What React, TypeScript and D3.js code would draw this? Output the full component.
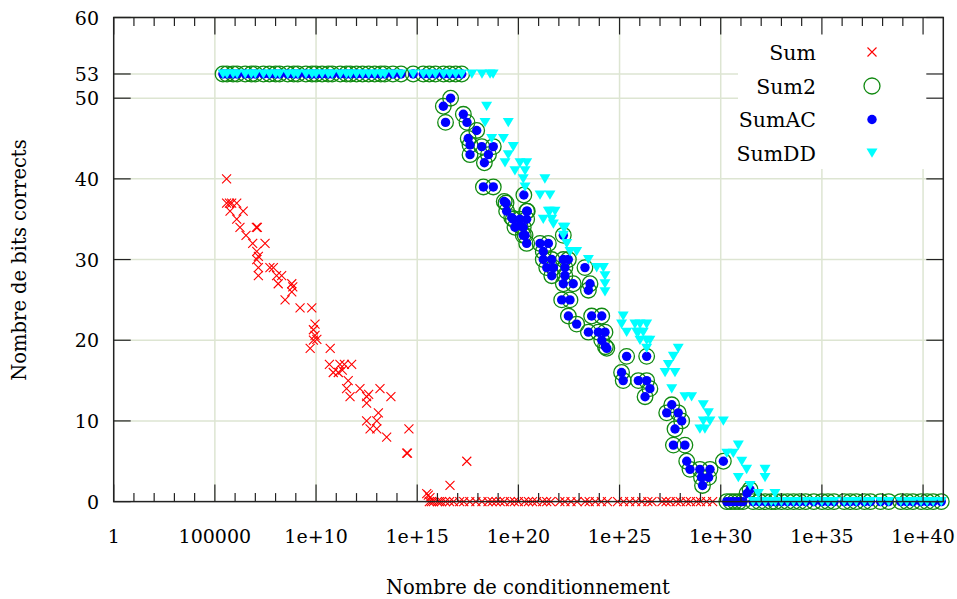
import React from "react";
import * as d3 from "d3";

// ---- data (log10 of condition number, correct bits) ----
const topExps: number[] = [5.4, 5.6, 5.9, 6.1, 6.5, 6.8, 7.0, 7.4, 7.7, 8.0, 8.2, 8.6, 8.9, 9.1, 9.5, 9.8, 10.0, 10.3, 10.6, 10.8, 11.2, 11.5, 11.7, 12.0, 12.3, 12.6, 12.9, 13.2, 13.4, 13.8, 14.2, 14.8, 15.3, 15.6, 15.9, 16.3, 16.6, 16.9, 17.2];
const zeroExpsAC: number[] = [30.3, 30.5, 30.7, 30.9, 31.1, 31.6, 31.9, 32.2, 32.5, 32.7, 33.0, 33.3, 33.6, 33.9, 34.2, 34.6, 35.0, 35.3, 35.6, 36.1, 36.4, 36.7, 37.1, 37.4, 37.9, 38.3, 38.9, 39.2, 39.5, 39.9, 40.2, 40.5, 40.9];
const zeroExpsDD: number[] = [31.6, 31.9, 32.2, 32.5, 32.7, 33.0, 33.3, 33.6, 33.9, 34.2, 34.6, 35.0, 35.3, 35.6, 36.1, 36.4, 36.7, 37.1, 37.4, 37.9, 38.3, 38.9, 39.2, 39.5, 39.9, 40.2, 40.5, 40.9];
const zeroExpsSum: number[] = [15.6, 15.7, 15.8, 16.0, 16.1, 16.2, 16.4, 16.6, 16.8, 17.1, 17.3, 17.6, 17.9, 18.2, 18.5, 18.7, 18.9, 19.1, 19.3, 19.6, 19.8, 20.0, 20.3, 20.5, 20.7, 20.9, 21.2, 21.4, 21.6, 22.05, 22.3, 22.6, 22.9, 23.3, 23.5, 23.8, 24.1, 24.4, 24.9, 25.2, 25.5, 25.8, 26.1, 26.4, 26.6, 27.1, 27.3, 27.5, 27.8, 28.0, 28.3, 28.5, 28.8, 29.0, 29.3, 29.6];

const sumPoints: [number, number][] = [
  [5.58, 40], [5.58, 37], [5.72, 37], [5.83, 37], [6.08, 37], [5.75, 36], [6.4, 36], [6.08, 35],
  [6.24, 34], [7.05, 34], [7.1, 34], [6.54, 33], [6.87, 32], [7.48, 32], [7.07, 31], [7.07, 30],
  [7.15, 30.4], [7.15, 29], [7.72, 29], [7.89, 29], [7.15, 28], [8.05, 28], [8.3, 28], [8.13, 27],
  [8.8, 27], [8.85, 26.6], [8.8, 26], [8.47, 25], [9.21, 24], [9.79, 24], [9.95, 22], [9.87, 21.3],
  [9.95, 20.6], [9.87, 20], [10.04, 20.1], [9.71, 19], [10.7, 19], [10.66, 17], [11.18, 17],
  [11.4, 17], [11.76, 17], [10.85, 16], [11.1, 16], [11.3, 16.3], [11.59, 15], [11.51, 14],
  [12.17, 14], [13.16, 14], [11.68, 13], [12.5, 13], [12.6, 13.3], [13.7, 13], [12.5, 12.2],
  [13.08, 11], [12.5, 10], [13.0, 10], [12.67, 9], [13.0, 9], [14.59, 9], [13.49, 8],
  [14.48, 6], [14.52, 6], [17.45, 5], [16.62, 2], [15.47, 1], [15.55, 0.8], [15.63, 0.5],
];

const sumACPoints: [number, number][] = [
  [16.65, 50], [16.29, 49], [16.4, 47], [17.28, 48], [17.46, 47], [17.94, 46], [17.52, 45], [17.61, 44.2],
  [18.19, 44], [18.76, 44], [17.61, 43], [18.52, 43], [18.32, 42], [18.27, 39], [18.76, 39], [20.27, 38],
  [19.39, 37], [19.3, 37.2], [20.44, 36], [19.42, 36], [20.41, 36], [19.75, 35], [19.67, 35.2], [20.08, 35],
  [20.41, 35], [19.83, 34], [20.24, 34], [20.08, 34.2], [20.33, 33], [20.24, 33], [20.41, 32], [21.07, 32],
  [21.48, 32], [21.23, 31], [21.23, 30], [21.65, 30], [22.22, 30], [22.47, 30], [22.22, 33], [21.73, 29],
  [21.4, 29], [22.3, 29], [23.29, 29], [21.65, 28], [22.3, 28], [22.22, 27], [22.71, 27], [23.54, 27],
  [23.46, 26.2], [22.14, 25], [22.55, 25], [22.47, 23], [22.88, 22], [23.62, 23], [24.12, 23], [23.46, 21],
  [23.95, 21], [24.28, 21], [24.12, 20], [24.37, 19], [24.3, 19.2], [25.35, 18], [26.34, 18], [25.1, 16],
  [25.18, 15], [25.93, 15], [26.34, 15], [26.5, 14], [26.26, 13], [27.58, 12], [27.33, 11], [27.9, 11],
  [28.07, 10], [27.74, 9], [27.66, 7], [28.23, 7], [28.32, 5], [30.13, 5], [28.48, 4], [28.97, 4],
  [29.47, 4], [29.05, 3], [29.4, 3], [29.1, 2], [31.3, 1], [31.45, 1.5],
];
const sum2Points: [number, number][] = sumACPoints;

const sumDDPoints: [number, number][] = [
  [17.7, 53], [18.2, 53], [18.6, 53], [18.75, 53], [18.43, 49], [18.35, 47], [19.5, 47], [18.68, 45],
  [19.26, 45], [19.75, 44], [19.5, 43], [19.34, 42], [20.08, 42], [20.41, 42], [19.83, 41], [20.33, 41],
  [20.24, 40], [21.31, 40], [20.33, 39], [21.07, 38], [21.56, 38], [21.56, 36], [21.48, 36], [21.81, 36],
  [21.23, 35], [21.65, 35], [21.73, 34.4], [22.22, 34], [22.3, 34], [22.22, 33], [22.39, 32], [22.55, 31],
  [22.88, 31], [23.46, 30], [23.87, 29], [24.2, 29], [24.28, 28], [24.28, 27], [24.28, 26], [25.18, 23],
  [25.1, 22], [25.76, 22], [26.01, 22], [26.34, 22], [25.35, 21], [25.85, 21], [25.93, 21], [26.17, 21],
  [26.01, 20], [26.34, 20], [26.5, 20], [26.34, 19], [27.9, 19], [27.66, 18], [27.41, 17], [27.25, 16],
  [27.74, 16], [27.58, 14], [28.23, 13], [28.56, 13], [29.14, 12], [29.39, 11], [29.14, 10], [29.47, 10],
  [30.13, 10], [28.97, 9], [29.22, 9], [30.3, 6], [30.87, 7], [30.62, 6], [31.04, 5], [31.28, 4],
  [32.19, 4], [30.87, 3], [32.19, 3], [31.45, 2], [31.86, 1], [32.68, 1],
];

const xTickExps: number[] = [0, 5, 10, 15, 20, 25, 30, 35, 40];
const xTickLabels: string[] = ["1", "100000", "1e+10", "1e+15", "1e+20", "1e+25", "1e+30", "1e+35", "1e+40"];
const yTicks: number[] = [0, 10, 20, 30, 40, 50, 53, 60];
const legendNames: string[] = ["Sum", "Sum2", "SumAC", "SumDD"];

const W = 957, H = 599;
const L = 113.7, R = 943.3, T = 17.5, B = 501.6;
const FONT = "'DejaVu Serif', serif";

export default function App() {
  const x = d3.scaleLog().domain([1, 1e41]).range([L, R]);
  const y = d3.scaleLinear().domain([0, 60]).range([B, T]);
  const px = (e: number) => x(Math.pow(10, e));

  const sumAll: [number, number][] = [...sumPoints, ...zeroExpsSum.map((e) => [e, 0] as [number, number])];
  const acAll: [number, number][] = [
    ...topExps.map((e) => [e, 53] as [number, number]),
    ...sumACPoints,
    ...zeroExpsAC.map((e) => [e, 0] as [number, number]),
  ];
  const s2All: [number, number][] = [
    ...topExps.map((e) => [e, 53] as [number, number]),
    ...sum2Points,
    ...zeroExpsAC.map((e) => [e, 0] as [number, number]),
  ];
  const ddAll: [number, number][] = [
    ...topExps.map((e) => [e, 53] as [number, number]),
    ...sumDDPoints,
    ...zeroExpsDD.map((e) => [e, 0] as [number, number]),
  ];

  const minorExps = d3.range(1, 41).filter((e) => e % 5 !== 0);
  const cross = (cx: number, cy: number, k: string) => (
    <path key={k} d={`M${cx - 4.5},${cy - 4.5}L${cx + 4.5},${cy + 4.5}M${cx - 4.5},${cy + 4.5}L${cx + 4.5},${cy - 4.5}`} stroke="#ff0000" strokeWidth={1.1} fill="none" />
  );
  const tri = (cx: number, cy: number, k: string) => (
    <path key={k} d={`M${cx - 5.5},${cy - 4.5}L${cx + 5.5},${cy - 4.5}L${cx},${cy + 4.8}Z`} fill="#00ffff" />
  );
  const gridColor = "#dde5d2";
  const legendY = [52, 86, 119.5, 153];

  return (
    <svg width={W} height={H} style={{ position: "absolute", left: 0, top: 0, background: "#fff" }} fontFamily={FONT}>
      {/* grid */}
      {xTickExps.slice(1).map((e) => (
        <line key={"gx" + e} x1={px(e)} x2={px(e)} y1={T} y2={B} stroke={gridColor} strokeWidth={1.5} />
      ))}
      {yTicks.slice(1).map((v) => (
        <line key={"gy" + v} x1={L} x2={R} y1={y(v)} y2={y(v)} stroke={gridColor} strokeWidth={1.5} />
      ))}
      {/* legend box background */}
      <rect x={738} y={T} width={R - 738} height={169 - T} fill="#fff" />
      {/* data */}
      <g>{sumAll.map((d, i) => cross(px(d[0]), y(d[1]), "s" + i))}</g>
      <g>{s2All.map((d, i) => <circle key={"c" + i} cx={px(d[0])} cy={y(d[1])} r={7.8} fill="none" stroke="#118a11" strokeWidth={1.3} />)}</g>
      <g>{acAll.map((d, i) => <circle key={"a" + i} cx={px(d[0])} cy={y(d[1])} r={4.7} fill="#0000ff" />)}</g>
      <g>{ddAll.map((d, i) => tri(px(d[0]), y(d[1]), "d" + i))}</g>
      {/* border */}
      <rect x={L} y={T} width={R - L} height={B - T} fill="none" stroke="#222" strokeWidth={1.5} />
      {/* x ticks */}
      {xTickExps.map((e) => (
        <g key={"xt" + e}>
          <line x1={px(e)} x2={px(e)} y1={B} y2={B - 17} stroke="#222" strokeWidth={1.2} />
          <line x1={px(e)} x2={px(e)} y1={T} y2={T + 17} stroke="#222" strokeWidth={1.2} />
        </g>
      ))}
      {minorExps.map((e) => (
        <g key={"xm" + e}>
          <line x1={px(e)} x2={px(e)} y1={B} y2={B - 8.5} stroke="#222" strokeWidth={1.2} />
          <line x1={px(e)} x2={px(e)} y1={T} y2={T + 8.5} stroke="#222" strokeWidth={1.2} />
        </g>
      ))}
      {xTickExps.map((e, i) => (
        <text key={"xl" + e} x={px(e)} y={543} fontSize={19} textAnchor="middle" fill="#000">{xTickLabels[i]}</text>
      ))}
      {/* y ticks */}
      {yTicks.map((v) => (
        <g key={"yt" + v}>
          <line x1={L} x2={L + 17} y1={y(v)} y2={y(v)} stroke="#222" strokeWidth={1.2} />
          <line x1={R} x2={R - 17} y1={y(v)} y2={y(v)} stroke="#222" strokeWidth={1.2} />
          <text x={99} y={y(v) + 7} fontSize={19} textAnchor="end" fill="#000">{v}</text>
        </g>
      ))}
      {/* axis labels */}
      <text x={528} y={594} fontSize={19.5} textAnchor="middle" fill="#000">Nombre de conditionnement</text>
      <text transform={`translate(26,260) rotate(-90)`} fontSize={19.5} textAnchor="middle" fill="#000">Nombre de bits corrects</text>
      {/* legend */}
      {legendNames.map((n, i) => (
        <text key={"lg" + n} x={816} y={legendY[i] + 7.5} fontSize={20.5} textAnchor="end" fill="#000">{n}</text>
      ))}
      {cross(872, legendY[0], "lgs")}
      <circle cx={872} cy={legendY[1]} r={8} fill="none" stroke="#118a11" strokeWidth={1.3} />
      <circle cx={872} cy={legendY[2]} r={4.7} fill="#0000ff" />
      {tri(872, legendY[3], "lgd")}
    </svg>
  );
}
